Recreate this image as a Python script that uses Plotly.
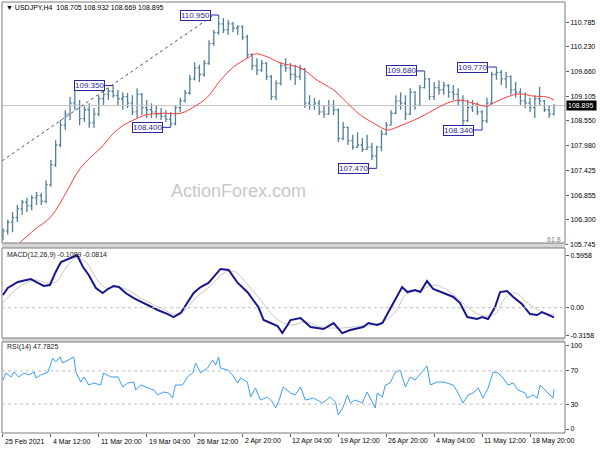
import plotly.graph_objects as go

# ---------------- DATA ----------------
bar_idx = list(range(116))
opens = [105.95, 106.05, 106.25, 106.35, 106.55, 106.70, 106.62, 106.80, 106.85, 106.72,
         107.10, 107.55, 108.00, 108.45, 108.70, 108.95, 108.90, 108.60, 108.80, 108.50,
         108.70, 109.05, 109.15, 109.22, 109.12, 109.05, 109.10, 108.95, 108.75, 109.15,
         108.85, 108.80, 108.75, 108.70, 108.65, 108.58, 108.48, 108.85, 109.00, 109.18,
         109.50, 109.75, 109.60, 109.85, 110.30, 110.55, 110.75, 110.62, 110.75, 110.65,
         110.68, 110.45, 110.05, 109.80, 109.70, 109.85, 109.55, 109.10, 109.40, 109.80,
         109.75, 109.60, 109.55, 109.72, 108.95, 108.90, 108.95, 108.75, 108.70, 108.90,
         108.80, 108.15, 108.40, 108.10, 107.95, 108.00, 107.90, 107.95, 107.75, 107.95,
         108.25, 108.45, 108.72, 109.00, 108.95, 108.70, 109.20, 108.90, 109.30, 109.50,
         109.10, 109.30, 109.25, 109.35, 109.20, 109.15, 109.00, 108.55, 108.85, 108.90,
         108.75, 108.55, 108.95, 109.60, 109.65, 109.50, 109.55, 109.25, 109.20, 109.00,
         108.95, 108.85, 109.05, 109.00, 108.80, 108.705]
highs = [106.11, 106.30, 106.48, 106.64, 106.75, 106.80, 106.86, 106.93, 106.91, 107.20,
         107.66, 108.11, 108.57, 108.79, 109.09, 109.25, 109.02, 108.91, 108.95, 108.84,
         109.13, 109.25, 109.29, 109.35, 109.25, 109.20, 109.18, 109.13, 109.29, 109.18,
         109.02, 108.95, 108.91, 108.84, 108.79, 108.75, 108.91, 109.07, 109.25, 109.59,
         109.88, 109.82, 109.93, 110.38, 110.61, 110.95, 110.88, 110.84, 110.79, 110.72,
         110.72, 110.50, 110.08, 109.97, 109.93, 109.88, 109.59, 109.47, 109.88, 109.97,
         109.86, 109.82, 109.82, 109.75, 109.13, 109.07, 109.02, 108.91, 109.02, 109.02,
         108.82, 108.52, 108.42, 108.23, 108.29, 108.16, 108.23, 108.05, 107.98, 108.34,
         108.52, 108.79, 109.13, 109.20, 109.13, 109.29, 109.22, 109.36, 109.68, 109.52,
         109.43, 109.47, 109.43, 109.38, 109.36, 109.29, 109.13, 109.02, 109.02, 108.97,
         108.79, 109.07, 109.66, 109.77, 109.70, 109.66, 109.58, 109.43, 109.29, 109.20,
         109.07, 109.13, 109.32, 109.02, 108.91, 108.932]
lows = [105.84, 105.96, 106.02, 106.25, 106.41, 106.48, 106.52, 106.64, 106.64, 106.68,
        107.05, 107.50, 107.95, 108.34, 108.57, 108.79, 108.45, 108.52, 108.39, 108.39,
        108.65, 108.91, 109.02, 109.07, 108.91, 108.80, 108.84, 108.68, 108.61, 108.68,
        108.61, 108.61, 108.61, 108.57, 108.52, 108.40, 108.45, 108.75, 108.97, 109.14,
        109.47, 109.43, 109.55, 109.82, 110.25, 110.50, 110.54, 110.50, 110.56, 110.50,
        110.38, 109.97, 109.70, 109.59, 109.66, 109.47, 109.02, 109.02, 109.35, 109.66,
        109.47, 109.36, 109.47, 108.84, 108.80, 108.80, 108.68, 108.61, 108.68, 108.68,
        108.07, 108.11, 108.00, 107.89, 107.93, 107.84, 107.89, 107.66, 107.47, 107.86,
        108.22, 108.45, 108.70, 108.80, 108.57, 108.68, 108.80, 108.88, 109.28, 109.02,
        109.02, 109.14, 109.14, 109.07, 109.02, 108.91, 108.39, 108.52, 108.75, 108.68,
        108.34, 108.50, 108.92, 109.48, 109.36, 109.29, 109.14, 109.07, 108.91, 108.84,
        108.75, 108.61, 108.91, 108.75, 108.61, 108.669]
closes = [106.05, 106.25, 106.35, 106.55, 106.70, 106.62, 106.80, 106.85, 106.72, 107.10,
          107.55, 108.00, 108.45, 108.70, 108.95, 108.90, 108.60, 108.80, 108.50, 108.70,
          109.05, 109.15, 109.22, 109.12, 109.05, 109.10, 108.95, 108.75, 109.15, 108.85,
          108.80, 108.75, 108.70, 108.65, 108.58, 108.48, 108.85, 109.00, 109.18, 109.50,
          109.75, 109.60, 109.85, 110.30, 110.55, 110.75, 110.62, 110.75, 110.65, 110.68,
          110.45, 110.05, 109.80, 109.70, 109.85, 109.55, 109.10, 109.40, 109.80, 109.75,
          109.60, 109.55, 109.72, 108.95, 108.90, 108.95, 108.75, 108.70, 108.90, 108.80,
          108.15, 108.40, 108.10, 107.95, 108.00, 107.90, 107.95, 107.75, 107.95, 108.25,
          108.45, 108.72, 109.00, 108.95, 108.70, 109.20, 108.90, 109.30, 109.50, 109.10,
          109.30, 109.25, 109.35, 109.20, 109.15, 109.00, 108.55, 108.85, 108.90, 108.75,
          108.55, 108.95, 109.60, 109.65, 109.50, 109.55, 109.25, 109.20, 109.00, 108.95,
          108.85, 109.05, 109.00, 108.80, 108.70, 108.895]

ma_x = [3.5, 6.5, 10, 13.5, 15.6, 17.7, 20.4, 23.1, 25.2, 27.3, 29.8, 32.9, 37.1, 39.8, 42.7,
        45.4, 48.1, 51, 52.7, 55.2, 57.9, 62.1, 65.6, 69, 71.9, 74.6, 77.3, 80.2, 81.9, 84.4,
        87.1, 89.8, 92.7, 95.4, 98.1, 101, 102.3, 105.2, 107.9, 110.6, 113.5, 115]
ma_y = [105.78, 106.07, 106.37, 106.98, 107.39, 107.66, 107.93, 108.27, 108.45, 108.57, 108.68,
        108.72, 108.72, 108.86, 109.09, 109.47, 109.77, 109.97, 110.07, 110.00, 109.86, 109.75,
        109.47, 109.25, 108.95, 108.68, 108.50, 108.34, 108.39, 108.50, 108.63, 108.79, 108.95,
        109.02, 108.95, 108.88, 108.95, 109.09, 109.16, 109.11, 109.09, 109.02]

current_price = 108.895
trend_x = [-0.2, 44.0]
trend_y = [107.64, 110.95]

swing_idx = [45, 23, 35, 78, 88, 103, 100]
swing_val = [110.950, 109.350, 108.400, 107.470, 109.680, 109.770, 108.340]

macd_x = [0, 1.0, 3.1, 5.8, 7.3, 8.5, 9.8, 11.0, 12.1, 13.75, 15.5, 16.7, 17.9, 19.4, 20.8,
          21.9, 23.1, 24.2, 25.6, 27.3, 29.4, 32.3, 34.4, 35.6, 37.1, 39.8, 41.25, 42.9, 45.4,
          47.1, 49.0, 51.0, 53.3, 54.4, 57.3, 58.3, 59.4, 60.0, 62.1, 64.2, 66.9, 69.0, 70.8,
          72.5, 75.2, 76.25, 78.1, 79.2, 81.25, 83.3, 84.4, 86.0, 87.1, 88.5, 89.8, 91.9, 94.0,
          95.4, 96.9, 98.96, 100.0, 101.25, 102.7, 103.75, 105.2, 106.5, 108.3, 110.0, 111.5,
          112.5, 113.5, 115.0]
macd_main = [0.144, 0.224, 0.292, 0.326, 0.281, 0.247, 0.258, 0.406, 0.519, 0.553, 0.5958,
             0.462, 0.372, 0.224, 0.167, 0.212, 0.247, 0.235, 0.167, 0.110, 0.053, -0.026,
             -0.072, -0.106, -0.060, 0.167, 0.235, 0.281, 0.440, 0.428, 0.281, 0.178, 0.008,
             -0.140, -0.208, -0.288, -0.197, -0.140, -0.117, -0.219, -0.242, -0.174, -0.288,
             -0.253, -0.219, -0.174, -0.197, -0.174, 0.031, 0.235, 0.178, 0.201, 0.178, 0.303,
             0.212, 0.167, 0.122, 0.053, -0.106, -0.128, -0.106, -0.128, 0.008, 0.178, 0.190,
             0.122, 0.042, -0.072, -0.083, -0.049, -0.072, -0.1089]
sig_x = [0, 2.1, 4.8, 6.9, 9.0, 11.0, 13.1, 15.2, 17.3, 19.4, 21.5, 23.5, 25.6, 28.75, 32.9,
         36.0, 38.1, 40.2, 43.3, 46.5, 48.5, 50.6, 53.75, 56.9, 60.0, 63.1, 66.25, 70.4, 74.6,
         78.75, 81.9, 84.0, 87.1, 90.2, 93.3, 96.5, 99.6, 102.7, 104.8, 106.9, 110.0, 113.1, 115.0]
macd_signal = [0.053, 0.178, 0.281, 0.315, 0.281, 0.292, 0.451, 0.565, 0.519, 0.338, 0.224,
               0.235, 0.212, 0.110, -0.003, -0.072, -0.026, 0.110, 0.247, 0.406, 0.406, 0.292,
               0.088, -0.117, -0.197, -0.163, -0.219, -0.231, -0.208, -0.174, -0.049, 0.144,
               0.201, 0.258, 0.178, 0.031, -0.083, -0.072, 0.110, 0.167, 0.031, -0.060, -0.0814]

rsi_x = [0.0, 0.6, 1.7, 2.3, 3.3, 4.4, 5.4, 6.5, 6.9, 7.9,
         9.4, 10.4, 11.0, 11.9, 12.5, 13.5, 14.4, 14.8, 15.2, 16.25,
         16.9, 17.9, 19.0, 20.4, 21.0, 22.5, 24.0, 25.0, 26.0, 27.3,
         27.7, 28.75, 30.2, 31.5, 32.3, 33.5, 34.6, 35.4, 36.0, 37.5,
         38.5, 39.6, 40.2, 41.25, 42.7, 43.75, 44.4, 45.0, 45.4, 46.9,
         47.9, 49.0, 49.6, 51.0, 51.7, 52.7, 53.75, 55.2, 56.25, 56.9,
         57.5, 58.5, 60.0, 61.0, 62.1, 63.1, 64.8, 66.7, 68.3, 69.4,
         70.0, 71.0, 71.9, 72.5, 73.5, 75.0, 76.0, 77.1, 77.7, 78.1,
         79.2, 79.8, 80.8, 81.9, 82.9, 84.0, 85.0, 86.0, 87.5, 88.5,
         89.2, 90.6, 91.9, 94.0, 95.0, 96.0, 97.1, 98.1, 99.2, 100.2,
         101.25, 102.3, 103.3, 104.4, 105.4, 106.5, 107.5, 109.0, 109.4, 110.6,
         111.5, 112.1, 113.1, 114.2, 114.8, 115.0]
rsi_vals = [59.0, 67.5, 62.7, 68.7, 62.7, 67.5, 65.1, 68.7, 61.4, 65.1,
            68.7, 85.5, 80.7, 86.7, 79.5, 83.1, 85.5, 86.7, 68.7, 56.6,
            62.7, 53.0, 55.4, 53.0, 67.5, 62.7, 62.7, 50.6, 55.4, 56.6,
            47.0, 53.0, 49.4, 47.0, 41.0, 44.6, 43.4, 37.3, 53.0, 53.0,
            62.7, 67.5, 79.5, 67.5, 73.5, 83.1, 77.1, 86.7, 73.5, 71.1,
            65.1, 55.4, 61.4, 56.6, 38.6, 49.4, 34.9, 38.6, 32.5, 25.3,
            32.5, 50.6, 43.4, 41.0, 50.6, 34.9, 37.3, 31.3, 38.6, 32.5,
            16.9, 26.5, 41.0, 31.3, 34.9, 31.3, 44.6, 31.3, 25.3, 43.4,
            38.6, 53.0, 55.4, 68.7, 71.1, 50.6, 62.7, 59.0, 68.7, 75.9,
            53.0, 56.6, 56.6, 53.0, 43.4, 31.3, 41.0, 43.4, 49.4, 37.3,
            49.4, 68.7, 67.5, 61.4, 53.0, 55.4, 47.0, 43.4, 37.3, 41.0,
            37.3, 53.0, 47.0, 41.0, 37.3, 47.78]

price_ticks = [110.785, 110.230, 109.660, 109.105, 108.550, 107.980, 107.425, 106.855, 106.300]
price_tick_low = 105.745
macd_ticks = [0.5958, 0.0, -0.3158]
macd_tick_text = ["0.5958", "0.00", "-0.3158"]
rsi_ticks = [100, 70, 30, 0]
rsi_levels = [70, 30]
x_tick_idx = [0, 10, 20, 30, 40, 50, 60, 70, 80, 90, 100, 110]
x_tick_text = ["25 Feb 2021", "4 Mar 12:00", "11 Mar 20:00", "19 Mar 04:00", "26 Mar 12:00",
               "2 Apr 20:00", "12 Apr 04:00", "19 Apr 12:00", "26 Apr 20:00", "4 May 04:00",
               "11 May 12:00", "18 May 20:00"]

# ---------------- LAYOUT CONSTANTS ----------------
W, H = 600, 450
ML, MR, MT, MB = 2, 35, 2, 17
PH = H - MT - MB
PW = W - ML - MR


def py(ypx):
    return (H - MB - ypx) / PH


def px(xpx):
    return (xpx - ML) / PW


P_DOM = [py(243), 1.0]
M_DOM = [py(338), py(248)]
R_DOM = [0.0, py(342)]
X_RANGE = [-0.2, 117.3]
FONT = "Liberation Sans, Arial, DejaVu Sans, sans-serif"
BAR_COL = "#52809b"
LBL_COL = "#2828a0"

fig = go.Figure()

# price panel
fig.add_trace(go.Scatter(x=[X_RANGE[0], X_RANGE[1]], y=[current_price, current_price], mode="lines",
                         line=dict(color="#c4c4c4", width=1), xaxis="x", yaxis="y", hoverinfo="skip"))
fig.add_trace(go.Scatter(x=trend_x, y=trend_y, mode="lines",
                         line=dict(color="#555555", width=1, dash="dot"), xaxis="x", yaxis="y", hoverinfo="skip"))
fig.add_trace(go.Ohlc(x=bar_idx, open=opens, high=highs, low=lows, close=closes,
                      increasing=dict(line=dict(color=BAR_COL, width=1.3)),
                      decreasing=dict(line=dict(color=BAR_COL, width=1.3)),
                      tickwidth=0.35, xaxis="x", yaxis="y", hoverinfo="skip"))
fig.add_trace(go.Scatter(x=ma_x, y=ma_y, mode="lines", line=dict(color="#ff3b3b", width=1, shape="spline"),
                         xaxis="x", yaxis="y", hoverinfo="skip"))

# MACD panel
fig.add_trace(go.Scatter(x=sig_x, y=macd_signal, mode="lines", line=dict(color="#c8c8c8", width=1, shape="spline"),
                         xaxis="x2", yaxis="y2", hoverinfo="skip"))
fig.add_trace(go.Scatter(x=macd_x, y=macd_main, mode="lines", line=dict(color="#16168e", width=2),
                         xaxis="x2", yaxis="y2", hoverinfo="skip"))

# RSI panel
fig.add_trace(go.Scatter(x=rsi_x, y=rsi_vals, mode="lines", line=dict(color="#3c9cff", width=1),
                         xaxis="x3", yaxis="y3", hoverinfo="skip"))

common_x = dict(range=X_RANGE, showgrid=False, zeroline=False, showline=False, fixedrange=True)
ax_font = dict(family=FONT, size=7, color="#000000")

fig.update_layout(
    width=W, height=H, margin=dict(l=ML, r=MR, t=MT, b=MB),
    paper_bgcolor="white", plot_bgcolor="white", showlegend=False,
    font=dict(family=FONT, size=7, color="#000000"),
    xaxis=dict(domain=[0, 1], anchor="y", showticklabels=False, rangeslider=dict(visible=False), **common_x),
    xaxis2=dict(domain=[0, 1], anchor="y2", matches="x", showticklabels=False, **common_x),
    xaxis3=dict(domain=[0, 1], anchor="y3", matches="x", showticklabels=False, tickvals=x_tick_idx,
                ticks="outside", ticklen=3, tickcolor="#606060", **common_x),
    yaxis=dict(domain=P_DOM, range=[105.775, 111.246], side="right", anchor="x", tickvals=price_ticks,
               ticktext=[f"{v:.3f}" for v in price_ticks], ticks="outside", ticklen=3, tickcolor="#606060",
               showgrid=False, zeroline=False, tickfont=ax_font, fixedrange=True),
    yaxis2=dict(domain=M_DOM, range=[-0.344, 0.678], side="right", anchor="x2", tickvals=macd_ticks,
                ticktext=macd_tick_text, ticks="outside", ticklen=3, tickcolor="#606060",
                showgrid=False, zeroline=False, tickfont=ax_font, fixedrange=True),
    yaxis3=dict(domain=R_DOM, range=[-4.8, 104.8], side="right", anchor="x3", tickvals=rsi_ticks,
                ticks="outside", ticklen=3, tickcolor="#606060",
                showgrid=False, zeroline=False, tickfont=ax_font, fixedrange=True),
)

shapes = []
# separators between panels
for y0, y1 in [(M_DOM[1], P_DOM[0]), (R_DOM[1], M_DOM[0])]:
    shapes.append(dict(type="rect", xref="paper", yref="paper", x0=0, x1=1, y0=y0, y1=y1,
                       fillcolor="#d6d6d6", line=dict(width=0), layer="below"))
# panel frames
for dom in (P_DOM, M_DOM, R_DOM):
    shapes.append(dict(type="rect", xref="paper", yref="paper", x0=0, x1=1, y0=dom[0], y1=dom[1],
                       line=dict(color="#7c7c7c", width=1), fillcolor="rgba(0,0,0,0)"))
# level lines
shapes.append(dict(type="line", xref="x2 domain", yref="y2", x0=0, x1=1, y0=0, y1=0,
                   line=dict(color="#c0c0c0", width=1, dash="dot")))
for lv in rsi_levels:
    shapes.append(dict(type="line", xref="x3 domain", yref="y3", x0=0, x1=1, y0=lv, y1=lv,
                       line=dict(color="#c0c0c0", width=1, dash="dot")))
# swing label connectors
conn = 8 / (PW / (X_RANGE[1] - X_RANGE[0]))
for i, v in zip(swing_idx, swing_val):
    shapes.append(dict(type="line", xref="x", yref="y", x0=i - conn, x1=i, y0=v, y1=v,
                       line=dict(color=LBL_COL, width=1)))
# tick for lowest price label
shapes.append(dict(type="line", xref="paper", yref="paper", x0=1, x1=1 + 3 / PW,
                   y0=py(244.3), y1=py(244.3), line=dict(color="#606060", width=1)))
fig.update_layout(shapes=shapes)

ann = []
ann.append(dict(text="\u25bc USDJPY,H4  108.705 108.932 108.669 108.895", xref="paper", yref="paper",
                x=px(4), y=py(7), xanchor="left", yanchor="middle", showarrow=False,
                font=dict(family=FONT, size=7, color="#000000")))
ann.append(dict(text="MACD(12,26,9) -0.1089 -0.0814", xref="paper", yref="paper",
                x=px(5), y=py(255), xanchor="left", yanchor="middle", showarrow=False,
                font=dict(family=FONT, size=7, color="#202020")))
ann.append(dict(text="RSI(14) 47.7825", xref="paper", yref="paper",
                x=px(5), y=py(347), xanchor="left", yanchor="middle", showarrow=False,
                font=dict(family=FONT, size=7, color="#202020")))
ann.append(dict(text="ActionForex.com", xref="paper", yref="paper", x=px(238), y=py(191),
                xanchor="center", yanchor="middle", showarrow=False,
                font=dict(family=FONT, size=18, color="#c8c8c8")))
ann.append(dict(text="61.8", xref="paper", yref="paper", x=px(554), y=py(239),
                xanchor="center", yanchor="middle", showarrow=False,
                font=dict(family=FONT, size=7, color="#808080")))
ann.append(dict(text=f"{price_tick_low:.3f}", xref="paper", yref="paper", x=1, xshift=3, y=py(244.3),
                xanchor="left", yanchor="middle", showarrow=False, font=ax_font))
ann.append(dict(text=f"{current_price:.3f} ", xref="paper", yref="y", x=1, xshift=1, y=current_price,
                xanchor="left", yanchor="middle", showarrow=False, bgcolor="#000000", borderpad=1,
                font=dict(family=FONT, size=7, color="#ffffff")))
for i, v in zip(swing_idx, swing_val):
    ann.append(dict(text=f"{v:.3f}", xref="x", yref="y", x=i - conn, y=v, xanchor="right",
                    yanchor="middle", showarrow=False, bgcolor="white", bordercolor=LBL_COL,
                    borderwidth=1, borderpad=0, font=dict(family=FONT, size=8, color=LBL_COL)))
for i, t in zip(x_tick_idx, x_tick_text):
    ann.append(dict(text=t, xref="x3", yref="paper", x=i, y=py(441), xanchor="left", yanchor="middle",
                    showarrow=False, font=dict(family=FONT, size=7, color="#000000")))
fig.update_layout(annotations=ann)

fig.write_html("out.html", config={"displayModeBar": False, "staticPlot": True},
               post_script="document.body.style.margin='0px';")
